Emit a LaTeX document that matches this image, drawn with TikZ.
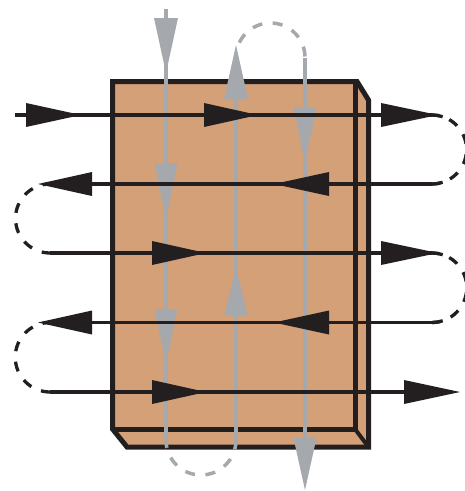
\documentclass[tikz,border=0pt]{standalone}
\definecolor{tan}{RGB}{212,160,120}
\definecolor{inkk}{RGB}{35,31,32}
\definecolor{grayy}{RGB}{165,168,172}
\tikzset{
  frameline/.style={draw=inkk,line width=5pt,line join=miter},
  blackline/.style={draw=inkk,line width=3.3pt},
  grayline/.style={draw=grayy,line width=3.8pt},
  blackdash/.style={draw=inkk,line width=3.3pt,dash pattern=on 10pt off 10.5pt,dash phase=2.5pt},
  graydash/.style={draw=grayy,line width=3.5pt,dash pattern=on 10pt off 10.5pt,dash phase=0.5pt},
  blackhead/.style={fill=inkk,draw=none},
  grayhead/.style={fill=grayy,draw=none},
}
\begin{document}
\begin{tikzpicture}[x=1pt,y=-1pt]
\useasboundingbox (0,0) rectangle (465,491);
\clip (0,0) rectangle (465,491);
% block
\coordinate (tl) at (112.5,81.5);
\coordinate (tr) at (357,81.5);
\coordinate (tc) at (368.5,100);
\coordinate (br) at (368.5,447);
\coordinate (bc) at (127,447);
\coordinate (bl) at (112.5,429);
\coordinate (fr) at (355,429);
\fill[tan] (tl) -- (tr) -- (tc) -- (br) -- (bc) -- (bl) -- cycle;
\draw[frameline] (tl) -- (tr) -- (tc) -- (br) -- (bc) -- (bl) -- cycle;
\draw[frameline] (355,81.5) -- (fr) -- (bl);
\draw[draw=inkk,line width=4pt] (fr) -- (br);
% gray paths
\coordinate (ga) at (166,9);
\coordinate (gab) at (166,440);
\coordinate (gb) at (236,440);
\coordinate (gbt) at (236,57.5);
\coordinate (gc) at (305,57.5);
\coordinate (gcb) at (305,470);
\draw[grayline] (ga) -- (gab);
\draw[grayline] (gb) -- (gbt);
\draw[grayline] (gc) -- (gcb);
\draw[graydash] (gb) arc[start angle=0,delta angle=-180,radius=35pt];
\draw[graydash,dash phase=19.5pt] (gc) arc[start angle=0,delta angle=180,radius=34.5pt];
% gray arrowheads
\foreach \x/\b/\t/\h in {166/18/73/12,166/163/219/11.5,166/309/364/11.5,236/99/45/12,236/315/267/11.5,305/107/163/11.5,305/438/490/11.5}
  \fill[grayhead] (\x-\h,\b) -- (\x+\h,\b) -- (\x,\t) -- cycle;
% black paths
\coordinate (la) at (15,115);
\coordinate (lae) at (432,115);
\coordinate (lb) at (432,184);
\coordinate (lbe) at (50,184);
\coordinate (lc) at (50,253);
\coordinate (lce) at (432,253);
\coordinate (ld) at (432,322.5);
\coordinate (lde) at (50,322.5);
\coordinate (le) at (50,392);
\coordinate (lee) at (440,392);
\draw[blackline] (la) -- (lae);
\draw[blackline] (lb) -- (lbe);
\draw[blackline] (lc) -- (lce);
\draw[blackline] (ld) -- (lde);
\draw[blackline] (le) -- (lee);
% dashed returns
\draw[blackdash] (lae) arc[start angle=90,delta angle=-180,radius=34.5pt];
\draw[blackdash] (lce) arc[start angle=90,delta angle=-180,radius=34.75pt];
\draw[blackdash] (lbe) arc[start angle=90,delta angle=180,radius=34.5pt];
\draw[blackdash] (lde) arc[start angle=90,delta angle=180,radius=34.75pt];
\draw[draw=inkk,line width=3.3pt] (lb) arc[start angle=270,delta angle=18,radius=34.5pt];
\draw[draw=inkk,line width=3.3pt] (ld) arc[start angle=270,delta angle=18,radius=34.75pt];
\draw[draw=inkk,line width=3.3pt] (lae) arc[start angle=90,delta angle=-18,radius=34.5pt];
\draw[draw=inkk,line width=3.3pt] (lce) arc[start angle=90,delta angle=-18,radius=34.75pt];
% black arrowheads
\foreach \b/\t/\y in {26/81/115,204/258/115,381/438/115,329/274/184,92/38/184,152/206/253,381/438/253,329/274/322.5,92/38/322.5,152/206/392,404/460/392}
  \fill[blackhead] (\b,\y-12) -- (\b,\y+12) -- (\t,\y) -- cycle;
\end{tikzpicture}
\end{document}
